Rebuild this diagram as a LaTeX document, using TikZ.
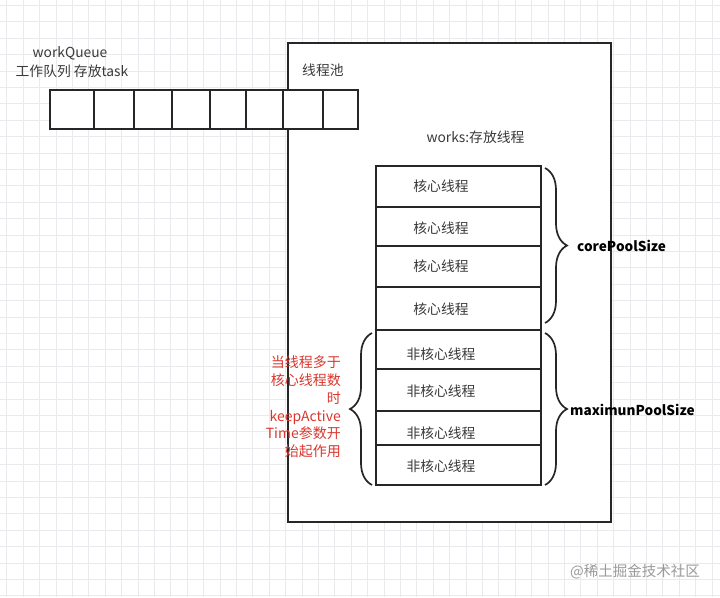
\documentclass[tikz,border=0pt]{standalone}
\usepackage{fontspec}
\setmainfont{Noto Sans CJK SC}
\usetikzlibrary{decorations.pathreplacing}
\definecolor{gridc}{HTML}{E9E9EE}
\definecolor{ink}{HTML}{262626}
\definecolor{txt}{HTML}{3A3A3A}
\definecolor{redtxt}{HTML}{D9372E}
\definecolor{wm}{HTML}{9A9A9A}
\tikzset{
  cell/.style={draw=ink, line width=1.7pt, fill=white, minimum height=39pt, inner sep=0pt},
  thickcell/.style={cell, line width=2.6pt},
  rowbox/.style={draw=ink, line width=1.7pt, fill=white, minimum width=165pt, inner sep=0pt},
  lbl/.style={text=txt, font=\fontsize{13.8pt}{16pt}\selectfont, inner sep=0pt},
  bigl/.style={text=black, font=\bfseries\fontsize{13.6pt}{16pt}\selectfont, inner sep=0pt},
  note/.style={text=redtxt, font=\fontsize{14pt}{17.8pt}\selectfont, align=right, inner sep=0pt},
  bracestyle/.style={draw=ink, line width=1.7pt, decorate, decoration={brace, amplitude=22pt}},
}
\begin{document}
\begin{tikzpicture}[x=1pt,y=-1pt]
\useasboundingbox (0,0) rectangle (720,597);
\fill[white] (0,0) rectangle (720,597);
% grid
\foreach \i in {0,...,43} {
  \draw[gridc, line width=0.8pt] ({6.7+16.4*\i},0) -- ({6.7+16.4*\i},597);
}
\foreach \j in {0,...,36} {
  \draw[gridc, line width=0.8pt] (0,{5.4+16.4*\j}) -- (720,{5.4+16.4*\j});
}
% thread pool
\node[draw=ink, line width=1.6pt, fill=white, minimum width=323pt, minimum height=479pt, inner sep=0pt] (pool) at (449.5,282.5) {};
\node[lbl, anchor=west] (poollbl) at (302,70) {线程池};
\node[lbl] (workslbl) at (475.5,137) {works:存放线程};
% queue
\node[cell, minimum width=44pt] (q1) at (72,109.5) {};
\node[cell, minimum width=40pt] (q2) at (114,109.5) {};
\node[cell, minimum width=38pt] (q3) at (153,109.5) {};
\node[thickcell, minimum width=38pt] (q4) at (191,109.5) {};
\node[thickcell, minimum width=36pt] (q5) at (228,109.5) {};
\node[cell, minimum width=37pt] (q6) at (264.5,109.5) {};
\node[cell, minimum width=40pt] (q7) at (303,109.5) {};
\node[cell, minimum width=35pt] (q8) at (340.5,109.5) {};
\node[lbl] (wq1) at (70,53) {workQueue};
\node[lbl] (wq2) at (72,71) {工作队列 存放task};
% core threads
\node[rowbox, minimum height=41pt] (c1) at (458.5,186.5) {};
\node[rowbox, minimum height=39pt] (c2) at (458.5,226.5) {};
\node[rowbox, minimum height=41pt] (c3) at (458.5,266.5) {};
\node[rowbox, minimum height=43pt] (c4) at (458.5,308.5) {};
\node[lbl] (c1t) at (441,186) {核心线程};
\node[lbl] (c2t) at (441,228) {核心线程};
\node[lbl] (c3t) at (441,266) {核心线程};
\node[lbl] (c4t) at (441,309) {核心线程};
% non-core threads
\node[rowbox, minimum height=39pt] (n1) at (458.5,349.5) {};
\node[rowbox, minimum height=42pt] (n2) at (458.5,390) {};
\node[rowbox, minimum height=34pt] (n3) at (458.5,428) {};
\node[rowbox, minimum height=40pt] (n4) at (458.5,465) {};
\node[lbl] (n1t) at (441,354) {非核心线程};
\node[lbl] (n2t) at (441,391) {非核心线程};
\node[lbl] (n3t) at (441,433) {非核心线程};
\node[lbl] (n4t) at (441,466) {非核心线程};
% braces
\coordinate (b1a) at (545,168);
\coordinate (b1b) at (545,323);
\coordinate (b2a) at (545,333);
\coordinate (b2b) at (545,485);
\coordinate (b3a) at (372,485);
\coordinate (b3b) at (372,333);
\draw[bracestyle] (b1a) -- (b1b);
\draw[bracestyle] (b2a) -- (b2b);
\draw[bracestyle] (b3a) -- (b3b);
\node[bigl, anchor=west] (core) at (577,246) {corePoolSize};
\node[bigl, anchor=west] (maxi) at (570,410) {maximunPoolSize};
\node[note, anchor=east] (keep) at (341,407) {当线程多于\\核心线程数\\时\\keepActive\\Time参数开\\始起作用};
% watermark
\node[text=wm, font=\fontsize{14.5pt}{16pt}\selectfont, inner sep=0pt] (wmk) at (635,572) {@稀土掘金技术社区};
\end{tikzpicture}
\end{document}
